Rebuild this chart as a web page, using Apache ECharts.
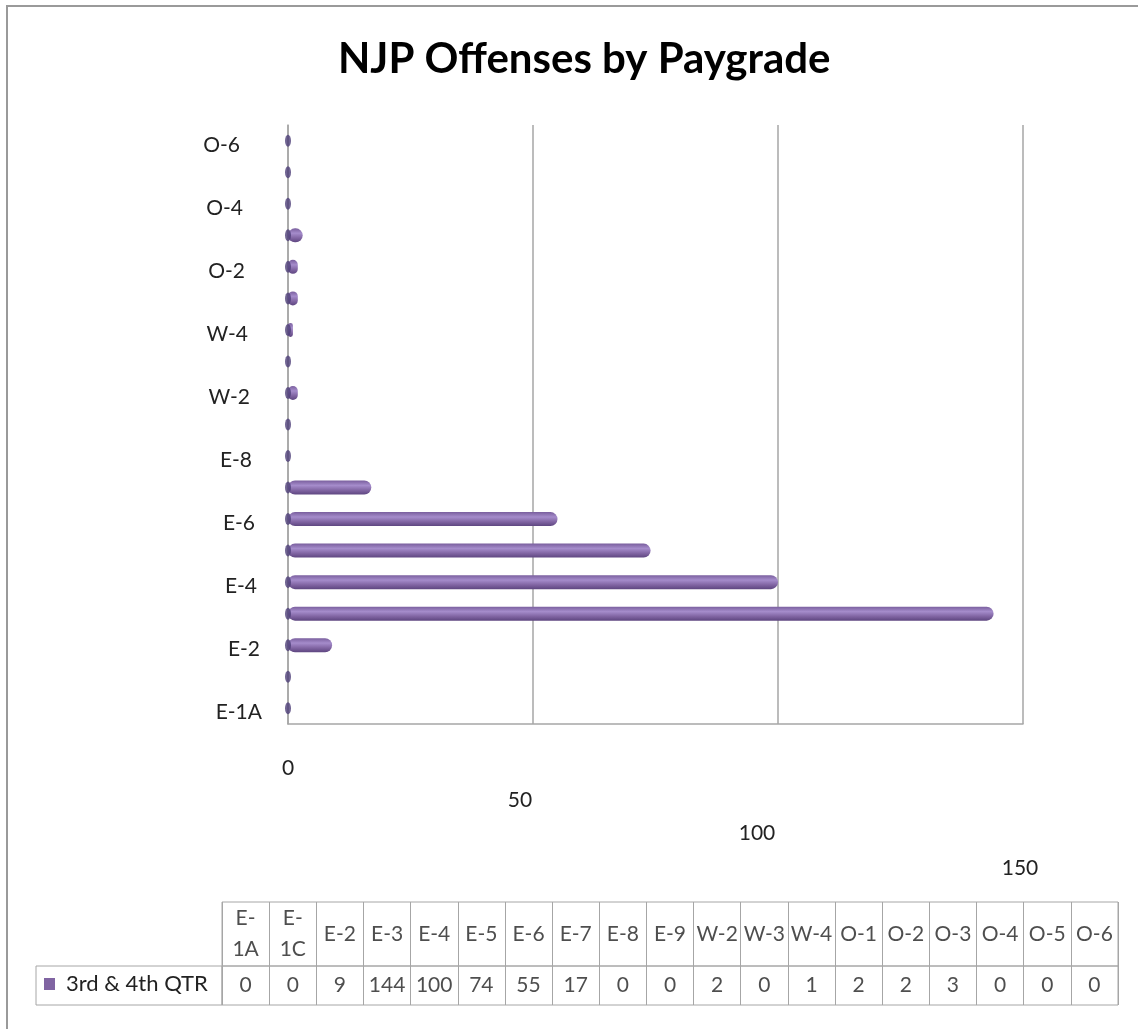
<!DOCTYPE html>
<html>
<head>
<meta charset="utf-8">
<title>NJP Offenses by Paygrade</title>
<script src="https://cdn.jsdelivr.net/npm/echarts@6/dist/echarts.min.js"></script>
<style>
    html, body { margin: 0; padding: 0; background: #fff; }
    #njp-chart { width: 1138px; height: 1029px; }
</style>
</head>
<body>
<div id="njp-chart"></div>
<script>
    // paygrades, bottom to top of the bar chart / left to right in the table
    var paygrades = ['E-1A', 'E-1C', 'E-2', 'E-3', 'E-4', 'E-5', 'E-6', 'E-7', 'E-8', 'E-9',
        'W-2', 'W-3', 'W-4', 'O-1', 'O-2', 'O-3', 'O-4', 'O-5', 'O-6'];
    // 3rd & 4th QTR offenses
    var offenses = [0, 0, 9, 144, 100, 74, 55, 17, 0, 0, 2, 0, 1, 2, 2, 3, 0, 0, 0];
    var seriesName = '3rd & 4th QTR';
    var xTicks = [0, 50, 100, 150];

    var font = 'Lato, "Open Sans", sans-serif';
    var gridColor = '#a6a6a6';
    var purple = '#8064a2';

    // x labels drop and drift like the tilted floor of the original
    var xRich = {};
    var xDrop = [0, 32, 65, 100];
    var xShift = [0, 26, 42, 6];
    xTicks.forEach(function (t, i) {
        xRich['t' + t] = { fontSize: 21, fontFamily: font, color: '#222', padding: [xDrop[i], xShift[i], 0, 0] };
    });
    // y labels drift left going up (tilted wall)
    var yRich = {};
    paygrades.forEach(function (p, i) {
        yRich['r' + i] = { fontSize: 21, fontFamily: font, color: '#222', padding: [8, Math.round(i * 1.2), 0, 0] };
    });

    var myEcharts = echarts.init(document.getElementById('njp-chart'));
    myEcharts.setOption({
        backgroundColor: '#fff',
        animation: false,
        title: {
            text: 'NJP Offenses by Paygrade',
            left: 333,
            top: 33,
            textStyle: { fontFamily: font, fontWeight: 'bold', fontSize: 42, color: '#000' }
        },
        legend: {
            data: [seriesName],
            left: 44,
            top: 973,
            icon: 'rect',
            itemWidth: 11,
            itemHeight: 12,
            padding: 0,
            itemStyle: { color: purple },
            textStyle: { fontFamily: font, fontSize: 22, color: '#222', padding: [0, 0, 0, 6] }
        },
        graphic: [
            // outer frame
            { type: 'rect', shape: { x: 7, y: 6, width: 1140, height: 1040 }, style: { fill: 'none', stroke: '#9a9a9a', lineWidth: 2 }, silent: true },
            // row header cell of the data table
            { type: 'rect', shape: { x: 36, y: 966, width: 186, height: 39 }, style: { fill: 'none', stroke: gridColor, lineWidth: 1 }, silent: true }
        ],
        grid: [
            { left: 288, top: 125, width: 735, height: 599 },
            { left: 222, top: 902, width: 896, height: 64, show: true, borderColor: gridColor, borderWidth: 1 },
            { left: 222, top: 966, width: 896, height: 39, show: true, borderColor: gridColor, borderWidth: 1 }
        ],
        xAxis: [
            {
                gridIndex: 0,
                type: 'value',
                min: 0,
                max: 150,
                interval: 50,
                axisLine: { show: true, lineStyle: { color: gridColor, width: 1.5 } },
                axisTick: { show: false },
                splitLine: { show: true, lineStyle: { color: gridColor, width: 1.5 } },
                axisLabel: {
                    margin: 34,
                    formatter: function (v) { return '{t' + v + '|' + v + '}'; },
                    rich: xRich
                }
            },
            {
                gridIndex: 1,
                type: 'category',
                data: paygrades,
                axisLine: { show: false },
                axisTick: { show: false },
                axisLabel: { show: false },
                splitLine: { show: true, interval: 0, lineStyle: { color: gridColor, width: 1 } }
            },
            {
                gridIndex: 2,
                type: 'category',
                data: paygrades,
                axisLine: { show: false },
                axisTick: { show: false },
                axisLabel: { show: false },
                splitLine: { show: true, interval: 0, lineStyle: { color: gridColor, width: 1 } }
            }
        ],
        yAxis: [
            {
                gridIndex: 0,
                type: 'category',
                data: paygrades,
                axisLine: { show: true, lineStyle: { color: gridColor, width: 1.5 } },
                axisTick: { show: false },
                splitLine: { show: false },
                axisLabel: {
                    interval: 1,
                    margin: 26,
                    formatter: function (v, idx) { return '{r' + idx + '|' + v + '}'; },
                    rich: yRich
                }
            },
            { gridIndex: 1, type: 'value', min: 0, max: 1, show: false },
            { gridIndex: 2, type: 'value', min: 0, max: 1, show: false }
        ],
        series: [
            {
                name: seriesName,
                type: 'bar',
                xAxisIndex: 0,
                yAxisIndex: 0,
                data: offenses,
                barWidth: 14,
                z: 3,
                itemStyle: {
                    borderRadius: 7,
                    color: new echarts.graphic.LinearGradient(0, 0, 0, 1, [
                        { offset: 0, color: '#7a5f9e' },
                        { offset: 0.35, color: '#a58ccb' },
                        { offset: 0.7, color: purple },
                        { offset: 1, color: '#5e4680' }
                    ])
                }
            },
            {
                // cylinder bases sitting on the wall
                name: 'base',
                type: 'scatter',
                xAxisIndex: 0,
                yAxisIndex: 0,
                data: paygrades.map(function (p) { return [0, p]; }),
                symbol: 'circle',
                symbolSize: [6, 12],
                z: 4,
                itemStyle: { color: '#4d3f78' },
                silent: true
            },
            {
                // table header
                name: 'header',
                type: 'scatter',
                xAxisIndex: 1,
                yAxisIndex: 1,
                data: paygrades.map(function (p) { return [p, 0.5]; }),
                symbolSize: 1,
                itemStyle: { color: 'rgba(0,0,0,0)' },
                silent: true,
                label: {
                    show: true,
                    position: 'inside',
                    fontFamily: font,
                    fontSize: 21,
                    lineHeight: 31,
                    color: '#222',
                    formatter: function (p) {
                        var s = p.value[0];
                        return s.length > 3 ? s.replace('-', '-\n') : s;
                    }
                }
            },
            {
                // table values
                name: 'values',
                type: 'scatter',
                xAxisIndex: 2,
                yAxisIndex: 2,
                data: paygrades.map(function (p, i) { return [p, 0.5, offenses[i]]; }),
                symbolSize: 1,
                itemStyle: { color: 'rgba(0,0,0,0)' },
                silent: true,
                label: {
                    show: true,
                    position: 'inside',
                    fontFamily: font,
                    fontSize: 21,
                    color: '#222',
                    formatter: function (p) { return p.value[2]; }
                }
            }
        ]
    });
    window.onresize = myEcharts.resize;
</script>
</body>
</html>
